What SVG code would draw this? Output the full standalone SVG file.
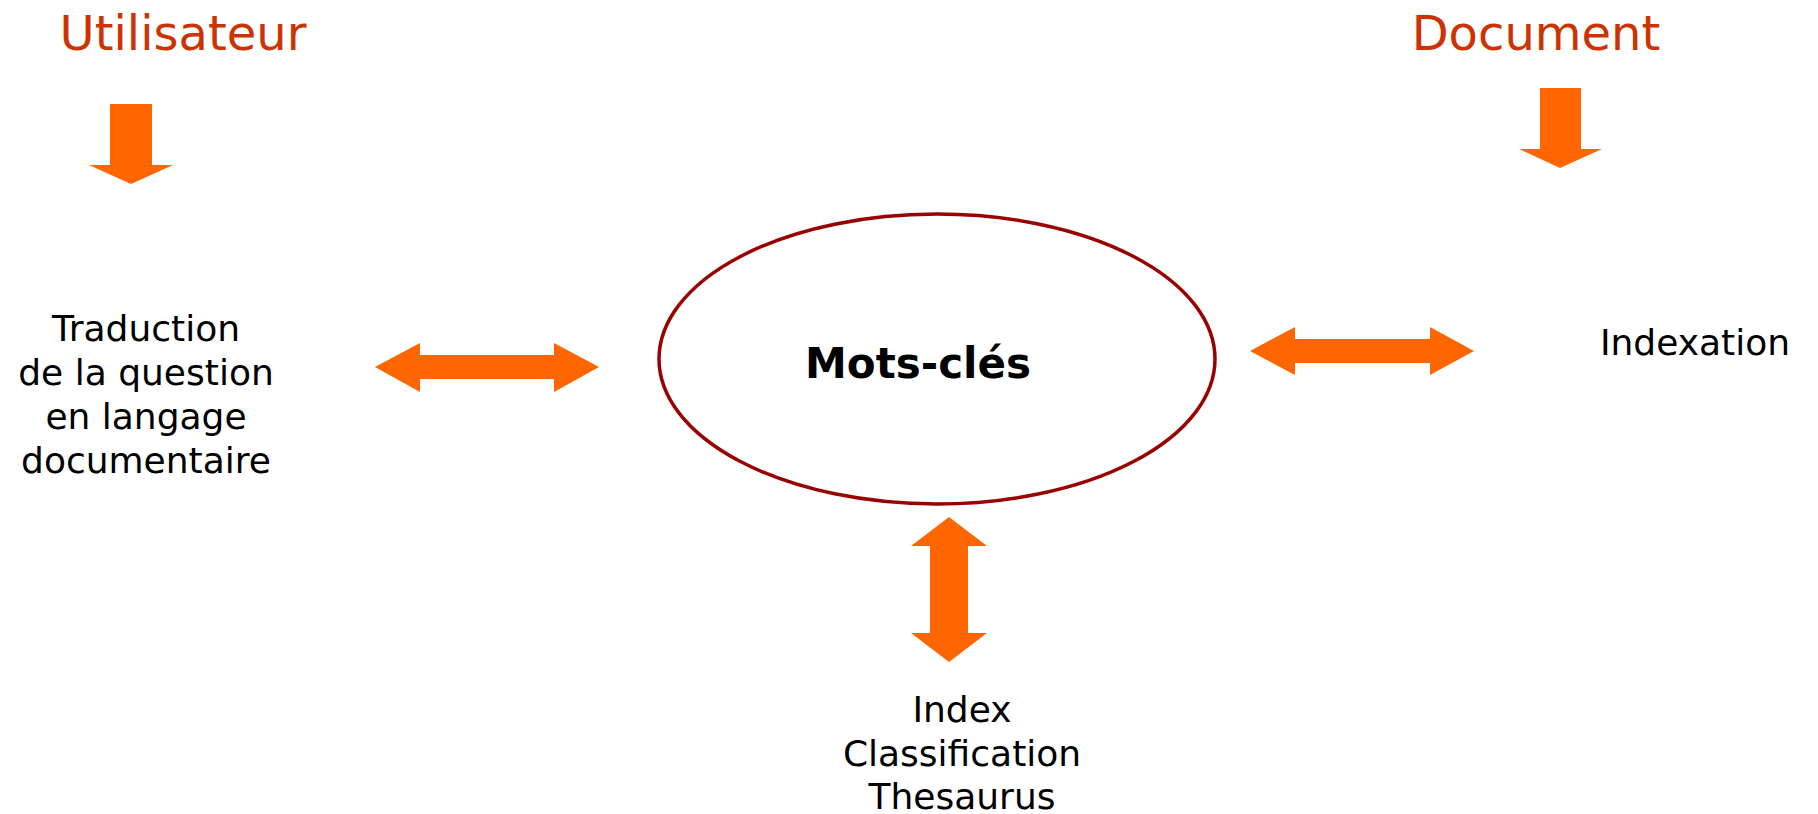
<svg xmlns="http://www.w3.org/2000/svg" width="1818" height="814" viewBox="0 0 1818 814">
<style>
.title{font-family:"DejaVu Sans",Verdana,sans-serif;font-size:48px;fill:#CC3300;text-anchor:middle}
.lbl{font-family:"DejaVu Sans",Verdana,sans-serif;font-size:36px;fill:#000;text-anchor:middle}
.arrow{fill:#FF6600}
</style>
<rect width="1818" height="814" fill="#fff"/>
<g id="utilisateur"><text class="title" x="183" y="50">Utilisateur</text></g>
<g id="document"><text class="title" x="1536" y="50">Document</text></g>
<g id="traduction"><text class="lbl" y="341"><tspan x="146">Traduction</tspan><tspan x="146" y="385">de la question</tspan><tspan x="146" y="429">en langage</tspan><tspan x="146" y="473">documentaire</tspan></text></g>
<g id="mots-cles">
<ellipse cx="937" cy="359" rx="278" ry="145" fill="#fff" stroke="#990000" stroke-width="3.5"/>
<text x="918" y="378" font-family="'DejaVu Sans',Verdana,sans-serif" font-size="42" font-weight="bold" text-anchor="middle" fill="#000">Mots-clés</text>
</g>
<g id="indexation"><text class="lbl" x="1695" y="355">Indexation</text></g>
<g id="ressources"><text class="lbl"><tspan x="962" y="722">Index</tspan><tspan x="962" y="766">Classification</tspan><tspan x="962" y="809">Thesaurus</tspan></text></g>
<g id="connectors">
<polygon class="arrow" points="110,104 152,104 152,165 173,165 131,184 89,165 110,165"/>
<polygon class="arrow" points="1540,88 1581,88 1581,149 1602,149 1560,168 1519,149 1540,149"/>
<polygon class="arrow" points="375,367 420,343 420,355 554,355 554,343 599,367 554,392 554,379 420,379 420,392"/>
<polygon class="arrow" points="1250,351 1295,327 1295,339 1430,339 1430,327 1474,351 1430,375 1430,363 1295,363 1295,375"/>
<polygon class="arrow" points="949,517 987,546 968,546 968,633 987,633 949,662 911,633 930,633 930,546 911,546"/>
</g>
</svg>
